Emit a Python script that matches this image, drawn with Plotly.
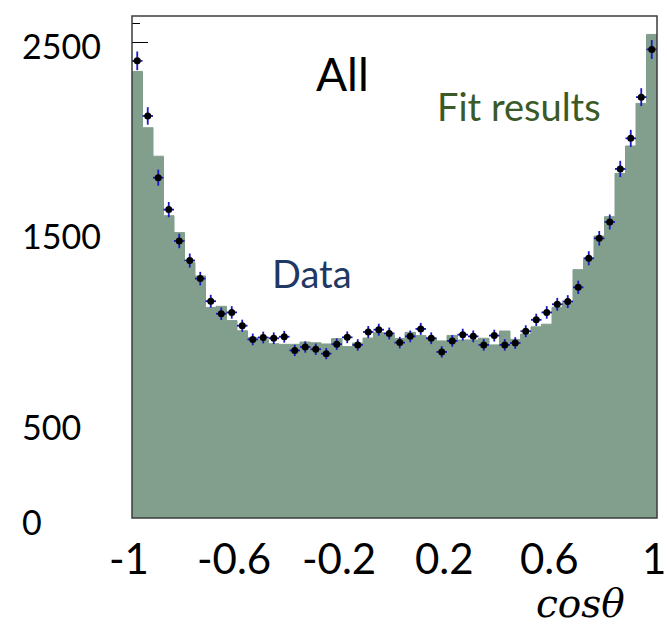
import numpy as np
import plotly.graph_objects as go

# 50 bins of cos(theta) on [-1, 1]
edges = np.linspace(-1.0, 1.0, 51)
centers = 0.5 * (edges[:-1] + edges[1:])
half_width = 0.5 * (edges[1] - edges[0])

# Fitted yield per bin (filled histogram)
fit_counts = [
    2350, 2054, 1904, 1591, 1502, 1344, 1274, 1108, 1114, 1039,
    985, 949, 938, 917, 914, 914, 926, 922, 916, 944,
    902, 921, 947, 975, 963, 945, 977, 960, 946, 932,
    961, 937, 937, 946, 911, 984, 940, 968, 1006, 1020,
    1109, 1130, 1307, 1360, 1484, 1586, 1814, 1958, 2182, 2545,
]

# Observed events per bin (points with Poisson errors)
data_counts = [
    2406, 2116, 1791, 1623, 1458, 1355, 1260, 1141, 1075, 1082,
    1012, 940, 950, 946, 954, 882, 900, 888, 865, 915,
    951, 911, 979, 991, 971, 923, 956, 995, 946, 874,
    932, 965, 956, 911, 960, 911, 921, 983, 1043, 1082,
    1125, 1139, 1214, 1367, 1472, 1558, 1837, 1998, 2215, 2466,
]

x_tick_vals = [-1, -0.6, -0.2, 0.2, 0.6, 1]
x_tick_text = ["-1", "-0.6", "-0.2", "0.2", "0.6", "1"]
y_label_vals = [2500, 1500, 500, 0]
y_label_text = ["2500", "1500", "500", "0"]

FILL = "#819f8c"
ERR = "#1818c8"
FONT = "Lato"

fig = go.Figure()

# step-shaped fit histogram
fig.add_trace(go.Scatter(
    x=edges,
    y=fit_counts + [fit_counts[-1]],
    mode="lines",
    line=dict(shape="hv", color=FILL, width=1),
    fill="tozeroy",
    fillcolor=FILL,
    hoverinfo="skip",
    showlegend=False,
))

# data points
data_arr = np.array(data_counts, dtype=float)
fig.add_trace(go.Scatter(
    x=centers,
    y=data_counts,
    mode="markers",
    marker=dict(color="black", size=7),
    error_y=dict(type="data", array=np.sqrt(data_arr), color=ERR, thickness=1.8, width=0),
    error_x=dict(type="constant", value=half_width, color=ERR, thickness=1.8, width=0),
    showlegend=False,
))

annotations = []
# y labels, left-aligned in the margin
for v, t in zip(y_label_vals, y_label_text):
    annotations.append(dict(
        x=-0.2133, xref="paper", y=v, yref="y", text=t, showarrow=False,
        xanchor="left", yanchor="middle", yshift=-3,
        font=dict(family=FONT, size=34, color="black"),
    ))
# x labels under the frame
for v, t in zip(x_tick_vals, x_tick_text):
    annotations.append(dict(
        x=v, xref="x", y=-0.079, yref="paper", text=t, showarrow=False,
        xanchor="center", yanchor="middle", xshift=-3,
        font=dict(family=FONT, size=42, color="black"),
    ))

annotations += [
    dict(x=-0.2, xref="x", y=2340, yref="y", text="All", showarrow=False,
         xanchor="center", yanchor="middle",
         font=dict(family=FONT, size=46, color="black")),
    dict(x=0.476, xref="x", y=2170, yref="y", text="Fit results", showarrow=False,
         xanchor="center", yanchor="middle",
         font=dict(family=FONT, size=38, color="#3a5a27")),
    dict(x=-0.314, xref="x", y=1290, yref="y", text="Data", showarrow=False,
         xanchor="center", yanchor="middle",
         font=dict(family=FONT, size=38, color="#1f3864")),
    dict(x=0.855, xref="paper", y=-0.17, yref="paper", text="<i>cosθ</i>", showarrow=False,
         xanchor="center", yanchor="middle",
         font=dict(family="DejaVu Serif", size=39, color="black")),
]

fig.update_layout(
    width=667, height=627,
    margin=dict(l=132, r=10, t=16, b=109),
    paper_bgcolor="white", plot_bgcolor="white",
    showlegend=False,
    annotations=annotations,
    shapes=[dict(type="rect", xref="paper", yref="paper", x0=0, y0=0, x1=1, y1=1,
                 line=dict(color="#3c3c3c", width=1.5), layer="above")],
    xaxis=dict(
        range=[-1, 1], showgrid=False, zeroline=False, showline=False, ticks="",
        showticklabels=False,
    ),
    yaxis=dict(
        range=[0, 2642], showgrid=False, zeroline=False, showline=False,
        showticklabels=False, ticks="inside", ticklen=16, tickcolor="black",
        tick0=0, dtick=500, layer="below traces",
        minor=dict(ticks="inside", ticklen=8, dtick=100, tickcolor="black"),
    ),
)

fig.write_html("out.html")
